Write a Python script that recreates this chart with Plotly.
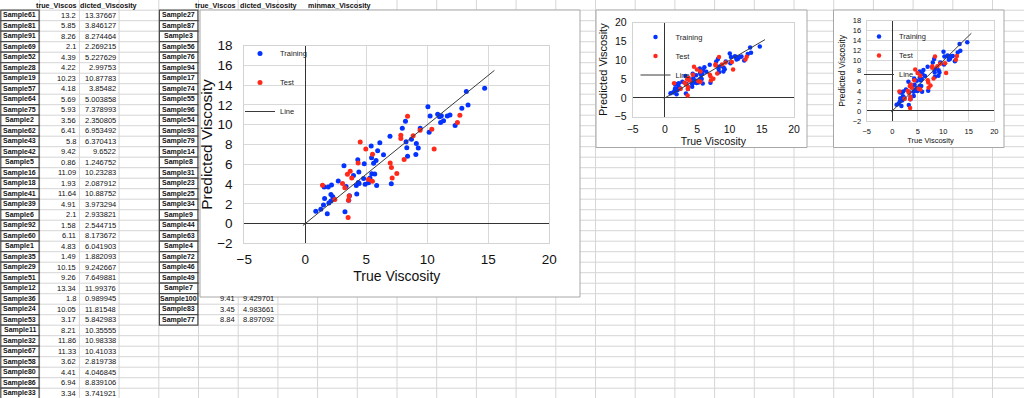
import plotly.graph_objects as go

W, H = 1024, 398

# ---------------- data ----------------
# training table (visible rows)
train_names = ["Sample61", "Sample81", "Sample91", "Sample69", "Sample52", "Sample28", "Sample19",
               "Sample57", "Sample64", "Sample75", "Sample2", "Sample62", "Sample43", "Sample42",
               "Sample5", "Sample16", "Sample18", "Sample41", "Sample39", "Sample6", "Sample92",
               "Sample60", "Sample1", "Sample35", "Sample29", "Sample51", "Sample12", "Sample36",
               "Sample24", "Sample53", "Sample11", "Sample32", "Sample67", "Sample58", "Sample80",
               "Sample86", "Sample33"]
train_true_tbl = ["13.2", "5.85", "8.26", "2.1", "4.39", "4.22", "10.23", "4.18", "5.69", "5.93",
                  "3.56", "6.41", "5.8", "9.42", "0.86", "11.09", "1.93", "11.64", "4.91", "2.1",
                  "1.58", "6.11", "4.83", "1.49", "10.15", "9.26", "13.34", "1.8", "10.05", "3.17",
                  "8.21", "11.86", "11.33", "3.62", "4.41", "6.94", "3.34"]
train_pred_tbl = ["13.37667", "3.846127", "8.274464", "2.269215", "5.227629", "2.99753", "10.87783",
                  "3.85482", "5.003858", "7.378993", "2.350805", "6.953492", "6.370413", "9.6522",
                  "1.246752", "10.23283", "2.087912", "10.88752", "3.973294", "2.933821", "2.544715",
                  "8.173672", "6.041903", "1.882093", "9.242667", "7.649881", "11.99376", "0.989945",
                  "11.81548", "5.842983", "10.35555", "10.98338", "10.41033", "2.819738", "4.046845",
                  "8.839106", "3.741921"]
# remaining training points (rows below the visible window)
train_true_extra = [1.27, 1.55, 1.88, 2.15, 2.25, 2.38, 2.70, 3.25, 3.95, 4.30, 4.35, 4.78, 5.18,
                    5.30, 5.40, 5.43, 5.45, 5.60, 7.05, 7.95, 8.32, 8.38, 8.70, 9.06, 9.10, 10.85,
                    11.00, 11.15, 12.28, 12.83, 14.70]
train_pred_extra = [1.45, 3.70, 3.70, 3.90, 2.72, 2.45, 4.30, 1.20, 4.85, 6.45, 4.15, 4.55, 4.12,
                    4.60, 7.85, 6.65, 5.05, 6.10, 4.02, 9.65, 7.68, 6.82, 8.52, 7.00, 8.10, 11.05,
                    10.80, 10.90, 9.92, 11.66, 13.70]

# test table
test_names = ["Sample27", "Sample87", "Sample3", "Sample56", "Sample76", "Sample94", "Sample17",
              "Sample74", "Sample55", "Sample96", "Sample54", "Sample93", "Sample79", "Sample14",
              "Sample8", "Sample31", "Sample23", "Sample25", "Sample34", "Sample9", "Sample44",
              "Sample63", "Sample4", "Sample72", "Sample46", "Sample49", "Sample7", "Sample100",
              "Sample83", "Sample77"]
test_true = [1.41, 2.42, 3.05, 3.24, 3.54, 3.59, 3.68, 3.81, 3.51, 4.33, 4.50, 4.96, 5.51, 5.18,
             5.50, 6.96, 7.06, 7.12, 7.50, 7.83, 7.83, 8.10, 8.38, 10.37, 10.56, 12.47, 12.67,
             9.41, 3.45, 8.84]
test_pred = [3.88, 2.43, 4.05, 3.61, 2.36, 2.80, 5.30, 4.62, 0.61, 6.14, 8.26, 7.55, 7.02, 4.45,
             4.28, 6.14, 5.67, 4.62, 5.06, 8.94, 8.60, 6.48, 10.86, 9.54, 7.55, 10.22, 10.96,
             9.429701, 4.983661, 8.897092]
test_true_shown = ["9.41", "3.45", "8.84"]
test_pred_shown = ["9.429701", "4.983661", "8.897092"]

line_x = [-0.2, 15.5]
line_y = [-0.2, 15.5]

header_left = ["true_Viscos", "dicted_Viscosity"]
header_right = ["true_Viscos", "dicted_Viscosity", "minmax_Viscosity"]

train_true = [float(v) for v in train_true_tbl] + train_true_extra
train_pred = [float(v) for v in train_pred_tbl] + train_pred_extra

BLUE = "#0433ff"
RED = "#ff2a1a"
FONT = "Liberation Sans"


def px(x):
    return x / W


def py(y):
    return 1 - y / H


fig = go.Figure()

# ---------------- charts ----------------
charts = [
    dict(ax="", leg="legend", ms=5),
    dict(ax="2", leg="legend2", ms=4.5),
    dict(ax="3", leg="legend3", ms=4.5),
]
for c in charts:
    xa = "x" + c["ax"]
    ya = "y" + c["ax"]
    fig.add_trace(go.Scatter(x=train_true, y=train_pred, mode="markers", name="Training",
                             marker=dict(color=BLUE, size=c["ms"]), xaxis=xa, yaxis=ya,
                             legend=c["leg"], legendgroup="a" + c["ax"]))
    fig.add_trace(go.Scatter(x=test_true, y=test_pred, mode="markers", name="Test",
                             marker=dict(color=RED, size=c["ms"]), xaxis=xa, yaxis=ya,
                             legend=c["leg"], legendgroup="b" + c["ax"]))
    fig.add_trace(go.Scatter(x=line_x, y=line_y, mode="lines", name="Line",
                             line=dict(color="#3a3a3a", width=1), xaxis=xa, yaxis=ya,
                             legend=c["leg"], legendgroup="c" + c["ax"]))


def axis(dom, rng, dtick, fs, title, tfs, anchor, grid=True, standoff=None, tls=3):
    d = dict(domain=dom, range=rng, dtick=dtick, tick0=0, showgrid=grid, gridcolor="#d9d9d9",
             gridwidth=1, zeroline=True, zerolinecolor="#333333", zerolinewidth=1,
             showline=True, mirror=True, linecolor="#d3d3d3", linewidth=1, ticks="",
             tickfont=dict(family=FONT, size=fs, color="#111"), anchor=anchor,
             title=dict(text=title, font=dict(family=FONT, size=tfs, color="#111")),
             fixedrange=True, ticklabelstandoff=tls, automargin=False)
    if standoff is not None:
        d["title"]["standoff"] = standoff
    return d


# main chart plot area (pixels): x 244.3-549.3, y 45.7-243.3
fig.update_layout(
    xaxis=axis([px(244.3), px(549.3)], [-5, 20], 5, 13.5, "True Viscosity", 14, "y", standoff=5.5),
    yaxis=axis([py(243.3), py(45.7)], [-2, 18], 2, 13.5, "Predicted Viscosity", 15.5, "x", standoff=0, tls=8),
    xaxis2=axis([px(632.7), px(794)], [-5, 20], 5, 10.5, "True Viscosity", 10.5, "y2", grid=False, standoff=1),
    yaxis2=axis([py(116.7), py(22.7)], [-5, 20], 5, 10.5, "Predicted Viscosity", 11, "x2", grid=False, standoff=4),
    xaxis3=axis([px(866.7), px(994.3)], [-5, 20], 5, 7.5, "True Viscosity", 7.5, "y3", standoff=2),
    yaxis3=axis([py(121), py(20.7)], [-2, 18], 2, 7.5, "Predicted Viscosity", 8.5, "x3", standoff=5),
)

leg_common = dict(bgcolor="rgba(0,0,0,0)", borderwidth=0, xanchor="left", yanchor="top",
                  itemwidth=30, font=dict(family=FONT, size=7.5, color="#222"))
fig.update_layout(
    legend=dict(x=px(240), y=py(39), tracegroupgap=10, **leg_common),
    legend2=dict(x=px(635.5), y=py(22.5), tracegroupgap=0, **leg_common),
    legend3=dict(x=px(859), y=py(22), tracegroupgap=0, **leg_common),
)

# ---------------- spreadsheet background ----------------
shapes = []
GRID = "#d6d6d6"
COLW = 39.7
ROWH = 10.5
Y0 = 10.2
k = 1
while k * COLW < W:
    shapes.append(dict(type="line", xref="paper", yref="paper", x0=px(k * COLW), x1=px(k * COLW),
                       y0=0, y1=1, line=dict(color=GRID, width=1), layer="below"))
    k += 1
k = 0
while Y0 + k * ROWH < H:
    y = Y0 + k * ROWH
    shapes.append(dict(type="line", xref="paper", yref="paper", x0=0, x1=1, y0=py(y), y1=py(y),
                       line=dict(color=GRID, width=1), layer="below"))
    k += 1

for i in range(len(train_names)):
    y0 = Y0 + i * ROWH
    shapes.append(dict(type="rect", xref="paper", yref="paper", x0=px(0.8), x1=px(COLW - 0.6),
                       y0=py(y0 + ROWH), y1=py(y0), line=dict(color="#4a4a4a", width=1.2),
                       fillcolor="#ffffff", layer="below"))
for i in range(len(test_names)):
    y0 = Y0 + i * ROWH
    shapes.append(dict(type="rect", xref="paper", yref="paper", x0=px(4 * COLW + 0.6),
                       x1=px(5 * COLW - 0.6), y0=py(y0 + ROWH), y1=py(y0),
                       line=dict(color="#4a4a4a", width=1.2), fillcolor="#ffffff", layer="below"))

for (x0, y0, x1, y1) in [(200, 10, 580, 297), (596, 10, 807, 147.5), (833.5, 10, 1004, 147.5)]:
    shapes.append(dict(type="rect", xref="paper", yref="paper", x0=px(x0), x1=px(x1),
                       y0=py(y1), y1=py(y0), line=dict(color="#a8a8a8", width=1),
                       fillcolor="#ffffff", layer="below"))

fig.update_layout(shapes=shapes)

ann = []


def txt(x, y, s, anchor="center", bold=False, size=7.5):
    ann.append(dict(x=px(x), y=py(y), xref="paper", yref="paper", text=("<b>%s</b>" % s) if bold else s,
                    showarrow=False, xanchor=anchor, yanchor="middle",
                    font=dict(family=FONT, size=size, color="#111"), borderpad=0))


txt(35, 5, header_left[0], "left", True, 7.2)
txt(79, 5, header_left[1], "left", True, 7.2)
txt(194, 5, header_right[0], "left", True, 7.2)
txt(239, 5, header_right[1], "left", True, 7.2)
txt(307, 5, header_right[2], "left", True, 7.2)

for i, n in enumerate(train_names):
    yc = Y0 + i * ROWH + ROWH / 2
    txt(COLW / 2, yc, n, "center", True, 7)
    txt(2 * COLW - 2.5, yc, train_true_tbl[i], "right")
    txt(3 * COLW - 2.5, yc, train_pred_tbl[i], "right")

for i, n in enumerate(test_names):
    yc = Y0 + i * ROWH + ROWH / 2
    txt(4.5 * COLW, yc, n, "center", True, 7)

nt = len(test_names)
for j in range(3):
    i = nt - 3 + j
    yc = Y0 + i * ROWH + ROWH / 2
    txt(6 * COLW - 2.5, yc, test_true_shown[j], "right")
    txt(7 * COLW - 2.5, yc, test_pred_shown[j], "right")

fig.update_layout(annotations=ann)

fig.update_layout(width=W, height=H, autosize=False, margin=dict(l=0, r=0, t=0, b=0, pad=0),
                  paper_bgcolor="white", plot_bgcolor="rgba(0,0,0,0)", showlegend=True)

fig.write_html("out.html", config={"displayModeBar": False},
               post_script="document.body.style.margin='0px';document.body.style.overflow='hidden';")
